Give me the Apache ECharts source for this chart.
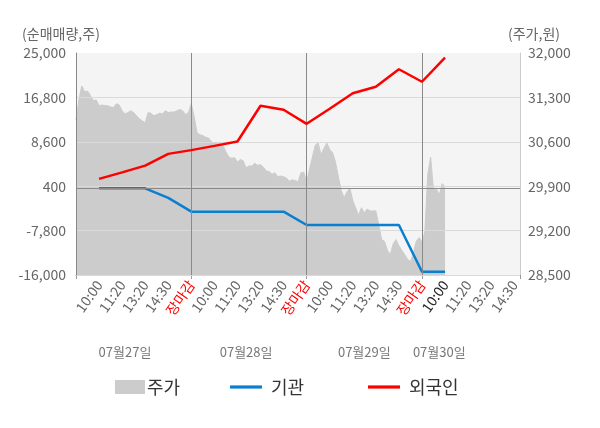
<!DOCTYPE html>
<html>
<head>
<meta charset="utf-8">
<script src="https://cdn.jsdelivr.net/npm/echarts@6/dist/echarts.min.js"></script>
<style>
html, body { margin: 0; padding: 0; background: #fff; }
#chart { width: 600px; height: 428px; }
</style>
</head>
<body>
<div id="chart"></div>
<script>
// 주가(원) - 일자별 시세 (한 칸 = 라벨 간격의 1/8)
var priceDay1 = [30950, 31260, 31480, 31390, 31400, 31330, 31250, 31260, 31170, 31180,
                 31170, 31170, 31150, 31140, 31200, 31180, 31090, 31040, 31060, 31090,
                 31060, 31010, 30960, 30930, 30900, 31060, 31050, 31010, 31030, 31050,
                 31040, 31090, 31060, 31070, 31070, 31090, 31110, 31090, 31030, 31060,
                 31200];
var priceDay2 = [30990, 30740, 30710, 30700, 30670, 30660, 30600, 30580, 30580, 30580,
                 30540, 30440, 30360, 30340, 30350, 30280, 30320, 30300, 30190, 30220,
                 30220, 30260, 30230, 30240, 30200, 30140, 30130, 30090, 30110, 30050,
                 30060, 30050, 30030, 29980, 30000, 29990, 29970, 30110, 30120, 29970];
var priceDay3 = [30170, 30360, 30550, 30580, 30390, 30500, 30580, 30480, 30430, 30280,
                 30050, 29830, 29720, 29810, 29870, 29670, 29560, 29440, 29560, 29480,
                 29540, 29510, 29510, 29510, 29290, 29060, 29030, 28890, 28820, 28990,
                 29060, 28960, 28890, 28820, 28750, 28710, 28840, 29030, 29090, 29020];
var priceDay4 = [29180, 30080, 30360, 29840, 29860, 29760, 29940, 29890];

// 순매매량(주) - 시간 라벨마다 한 점
var instVals = [0, 0, 0, -1760, -4300, -4300, -4300, -4300, -4300,
                -6760, -6760, -6760, -6760, -6760, -15400, -15400];
var foreignVals = [1750, 2950, 4200, 6370, 7060, 7850, 8650, 15250, 14510,
                   11920, 14700, 17560, 18770, 22000, 19690, 24130];

var timeLabels = ['10:00', '11:20', '13:20', '14:30', '장마감'];
var dateLabels = ['07월27일', '07월28일', '07월29일', '07월30일'];
var dateLabelIdx = [17, 59, 100, 126];

var step = 8;          // 라벨 사이 칸 수
var dayLen = 40;       // 하루 칸 수
var catCount = 155;
var nowIdx = 128;      // 현재 시각 (07월30일 10:00)

var cats = [];
for (var i = 0; i < catCount; i++) cats.push(String(i));

var priceVals = priceDay1.concat(priceDay2, priceDay3, priceDay4);

function atLabels(vals) {
    var out = [];
    for (var i = 0; i < catCount; i++) out.push(null);
    vals.forEach(function (v, k) { out[(k + 1) * step] = v; });
    return out;
}

var myChart = echarts.init(document.getElementById('chart'));
var font = 'Noto Sans CJK KR';

var option = {
    animation: false,
    textStyle: { fontFamily: font },
    grid: {
        left: 76, right: 80, top: 53, bottom: 153,
        show: true, backgroundColor: '#f4f4f4', borderWidth: 0
    },
    legend: [
        { data: [{ name: '주가', icon: 'rect' }], left: 110, top: 373,
          itemWidth: 30, itemHeight: 14, textStyle: { fontSize: 18, color: '#333', fontFamily: font, padding: [0, 0, 0, -3] } },
        { data: [{ name: '기관', icon: 'path://M0,0H30V3H0Z' }], left: 225, top: 373,
          itemWidth: 32, itemHeight: 14, textStyle: { fontSize: 18, color: '#333', fontFamily: font, padding: [0, 0, 0, 4] } },
        { data: [{ name: '외국인', icon: 'path://M0,0H30V3H0Z' }], left: 363, top: 373,
          itemWidth: 32, itemHeight: 14, textStyle: { fontSize: 18, color: '#333', fontFamily: font, padding: [0, 0, 0, 4] } }
    ],
    xAxis: [{
        type: 'category',
        data: cats,
        boundaryGap: false,
        axisLine: { onZero: false, lineStyle: { color: '#999' } },
        axisTick: {
            interval: function (idx) { return idx % dayLen === 0 || idx === catCount - 1; },
            length: 4, lineStyle: { color: '#999' }
        },
        splitLine: { show: false },
        axisLabel: {
            rotate: 55,
            margin: 7,
            interval: function (idx) { return idx > 0 && idx % step === 0 && idx <= 152; },
            formatter: function (val) {
                var n = Number(val);
                var pos = (n / step - 1) % 5;
                var t = timeLabels[pos];
                if (pos === 4) return '{r|' + t + '}';
                if (n === nowIdx) return '{k|' + t + '}';
                return '{t|' + t + '}';
            },
            rich: {
                t: { color: '#666', fontSize: 14, fontFamily: font },
                r: { color: '#ff0000', fontSize: 14, fontFamily: font },
                k: { color: '#222', fontSize: 14, fontFamily: font }
            }
        }
    }, {
        type: 'category',
        data: cats,
        boundaryGap: false,
        position: 'bottom',
        offset: 63,
        axisLine: { show: false },
        axisTick: { show: false },
        axisLabel: {
            interval: function (idx) { return dateLabelIdx.indexOf(idx) >= 0; },
            formatter: function (val) {
                var k = dateLabelIdx.indexOf(Number(val));
                return k >= 0 ? dateLabels[k] : '';
            },
            color: '#777', fontSize: 13, margin: 8
        }
    }],
    yAxis: [{
        type: 'value',
        min: -16000, max: 25000, interval: 8200,
        position: 'left',
        name: '(순매매량,주)',
        nameGap: 12,
        nameTextStyle: { color: '#666', fontSize: 14, padding: [0, 30, 0, 0] },
        axisLine: { show: true, lineStyle: { color: '#888' } },
        axisTick: { show: false },
        axisLabel: { color: '#666', fontSize: 14, margin: 10 },
        splitLine: { show: true, showMaxLine: false, lineStyle: { color: '#dadada' } },
        z: 3
    }, {
        type: 'value',
        min: 28500, max: 32000, interval: 700,
        position: 'right',
        name: '(주가,원)',
        nameGap: 12,
        nameTextStyle: { color: '#666', fontSize: 14, padding: [0, 0, 0, 28] },
        axisLine: { show: true, lineStyle: { color: '#ccc' } },
        axisTick: { show: false },
        axisLabel: { color: '#666', fontSize: 14, margin: 8 },
        splitLine: { show: false }
    }],
    series: [{
        name: '주가',
        type: 'line',
        yAxisIndex: 1,
        data: priceVals,
        symbol: 'none',
        color: '#cccccc',
        lineStyle: { width: 1, color: '#cccccc' },
        areaStyle: { color: '#cccccc', opacity: 1, origin: 'start' },
        silent: true,
        z: 2
    }, {
        name: '기관',
        type: 'line',
        yAxisIndex: 0,
        data: atLabels(instVals),
        connectNulls: true,
        symbol: 'none',
        color: '#0a7fcf',
        lineStyle: { width: 2.5, color: '#0a7fcf' },
        z: 4,
        markLine: {
            silent: true,
            symbol: 'none',
            label: { show: false },
            lineStyle: { color: '#8a8a8a', width: 1, type: 'solid' },
            data: [{ yAxis: 0 }, { xAxis: '40' }, { xAxis: '80' }, { xAxis: '120' }]
        }
    }, {
        name: '외국인',
        type: 'line',
        yAxisIndex: 0,
        data: atLabels(foreignVals),
        connectNulls: true,
        symbol: 'none',
        color: '#ff0000',
        lineStyle: { width: 2.5, color: '#ff0000' },
        z: 5
    }]
};

myChart.setOption(option);
</script>
</body>
</html>
